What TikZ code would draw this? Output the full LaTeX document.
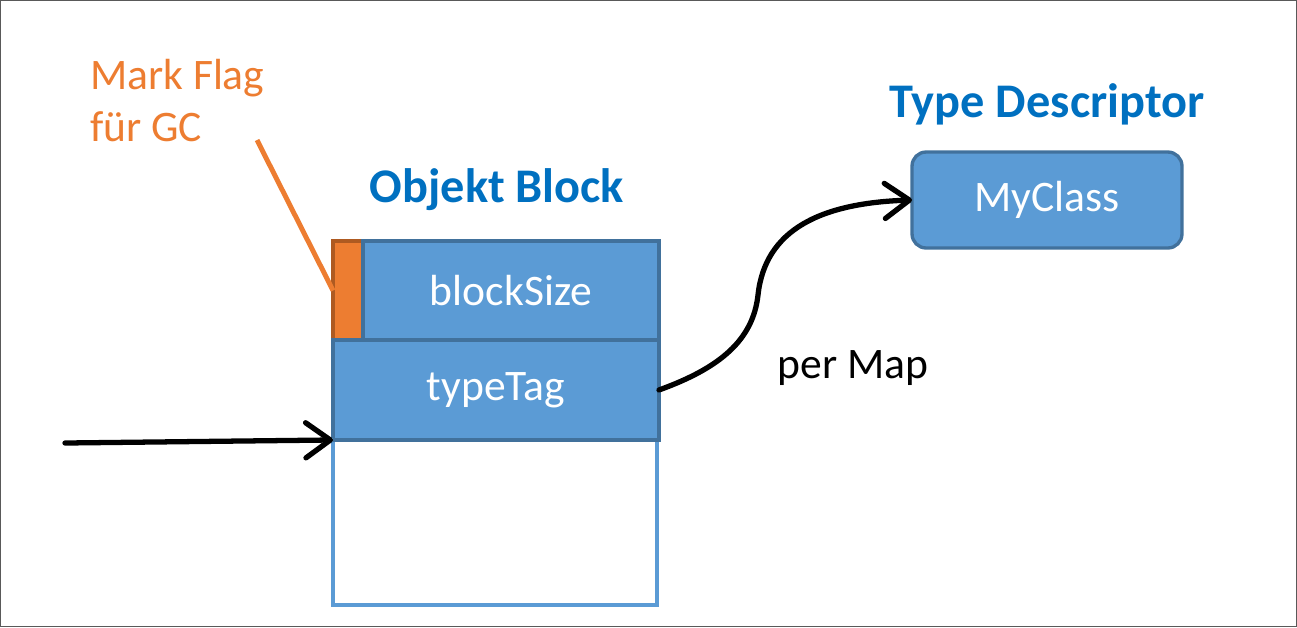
\documentclass[tikz,border=0pt]{standalone}
\usepackage{fontspec}
\setmainfont{Carlito}
\usepackage{tikz}
\usetikzlibrary{shapes,arrows.meta,positioning}

\definecolor{fieldblue}{HTML}{5B9BD5}
\definecolor{fieldline}{HTML}{41719C}
\definecolor{flagorange}{HTML}{ED7D31}
\definecolor{flagline}{HTML}{AE5A21}
\definecolor{titleblue}{HTML}{0070C0}

\begin{document}
\begin{tikzpicture}[x=0.02cm, y=-0.02cm,
  every node/.style = {inner sep=0pt, outer sep=0pt, font=\fontsize{24.8}{29.5}\selectfont},
  field/.style = {shape=rectangle, draw=fieldline, fill=fieldblue,
    line width=1.9pt, text=white, minimum height=1.98cm},
  flagbox/.style = {shape=rectangle, draw=flagline, fill=flagorange,
    line width=1.9pt, minimum width=0.6cm, minimum height=1.98cm},
  freebox/.style = {shape=rectangle, draw=fieldblue, fill=white,
    line width=1.8pt, minimum width=6.48cm, minimum height=3.3cm},
  typebox/.style = {field, rounded corners=8pt, minimum width=5.4cm, minimum height=1.92cm},
  title/.style = {text=titleblue, font=\fontsize{27.5}{32}\selectfont\bfseries},
  ptrline/.style = {draw=black, line width=3pt, line cap=round,
    -{Straight Barb[length=14pt, width=20pt, line cap=round, line join=round]}}]
  \useasboundingbox (0,0) rectangle (1297,627);
  \draw[black!65, line width=0.6pt] (0.5,0.5) rectangle (1296.5,626.5);

  % object block
  \node[flagbox] (flag) at (348,290.5) {};
  \node[field, right=0pt of flag, minimum width=5.92cm] (size) {blockSize};
  \node[field, anchor=north west, minimum width=6.52cm, minimum height=2cm] (tag) at (flag.south west) {typeTag};
  \node[freebox, anchor=north west] (rest) at (tag.south west) {};
  \draw[fieldline, line width=1.9pt] (tag.south west) -- (tag.south east);
  \node[title] (blocktitle) at (497,190) {Objekt Block};

  % type descriptor
  \node[typebox] (myclass) at (1047,200) {MyClass};
  \node[title] (typetitle) at (1047,104) {Type Descriptor};

  % mark flag
  \node[text=flagorange, align=left, anchor=north west] (flaglabel) at (90,59) {Mark Flag\\für GC};
  \coordinate (flagtip) at (257,140);
  \draw[flagorange, line width=2.8pt] (flagtip) -- (flag.west);

  % pointers
  \coordinate (ptr) at (65,443);
  \draw[ptrline] (ptr) -- (tag.south west);
  \coordinate (bend) at (758,295);
  \draw[ptrline] (tag.east) .. controls (720,368) and (753,340) .. (bend)
    .. controls (765,230) and (820,203) .. (myclass.west);
  \node (maplabel) at (853,368) {per Map};
\end{tikzpicture}
\end{document}
